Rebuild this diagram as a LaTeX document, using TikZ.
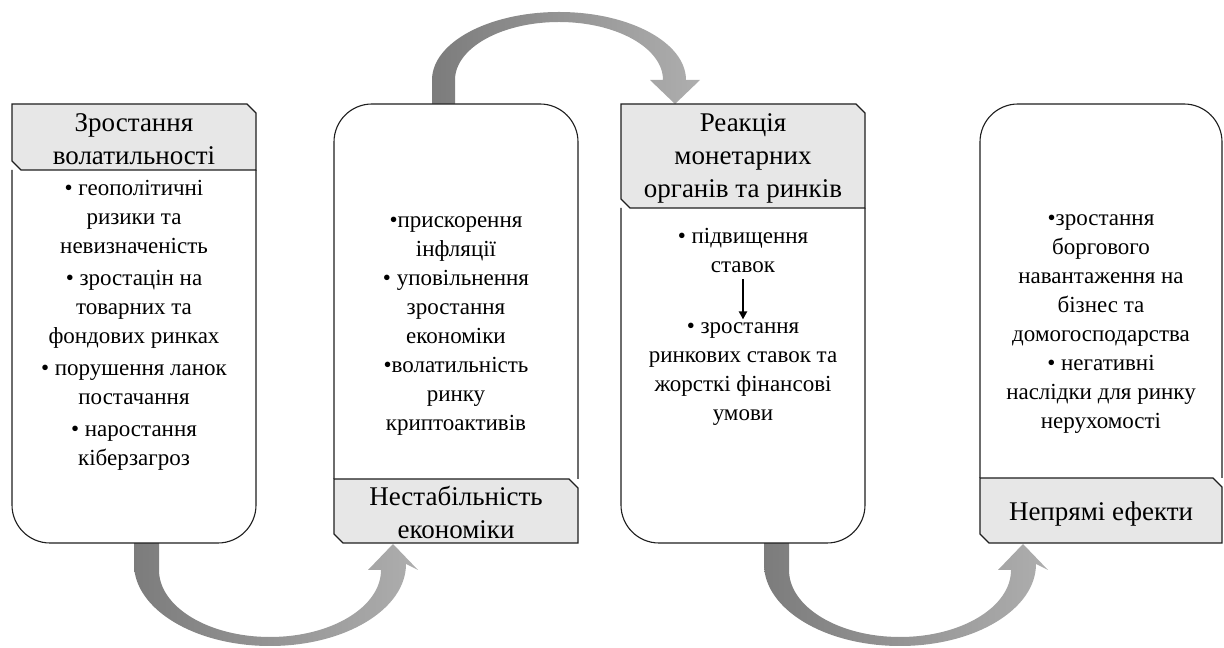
\documentclass[tikz,border=0pt]{standalone}
\usepackage{fontspec}
\setmainfont{Liberation Serif}
\newfontfamily\boxfont{Liberation Serif}
\usetikzlibrary{arrows.meta}
\definecolor{headgray}{RGB}{231,231,231}
\definecolor{arrowdark}{RGB}{124,124,124}
\definecolor{arrowlight}{RGB}{174,174,174}
\definecolor{framegray}{RGB}{30,30,30}

\begin{document}
\begin{tikzpicture}[x=1pt, y=1pt,
		box/.style={draw=framegray, line width=1.1pt, fill=white},
		head/.style={draw=framegray, line width=1.1pt, fill=headgray},
		bigarrow/.style={left color=arrowdark, right color=arrowlight},
		headtext/.style={align=center, inner sep=0pt, font=\boxfont\fontsize{27}{33}\selectfont},
		bodytext/.style={align=center, inner sep=0pt, font=\boxfont\fontsize{23}{29}\selectfont}]
		\useasboundingbox (0,0) rectangle (1224,648);

		% curved arrows
		\shade[bigarrow] (134,105) -- (134,84) arc[start angle=180, end angle=360, x radius=136, y radius=82] -- (418,78) -- (393,104) -- (368,78) -- (381,78) arc[start angle=0, end angle=-180, x radius=111, y radius=67] -- (159,105) -- cycle;
		\shade[bigarrow] (432,544) -- (432,568) arc[start angle=180, end angle=0, x radius=127, y radius=68] -- (700,568) -- (675,544) -- (650,568) -- (663,568) arc[start angle=0, end angle=180, x radius=104, y radius=58] -- (455,544) -- cycle;
		\shade[bigarrow] (764,105) -- (764,84) arc[start angle=180, end angle=360, x radius=136, y radius=82] -- (1048,78) -- (1023,104) -- (998,78) -- (1011,78) arc[start angle=0, end angle=-180, x radius=111, y radius=67] -- (789,105) -- cycle;

		% boxes
		\draw[box, rounded corners=38pt] (12,478) -- (12,105) -- (256,105) -- (256,478);
		\draw[head] (12,544) -- (247,544) -- (256,535) -- (256,478) -- (21,478) -- (12,487) -- cycle;

		\draw[box, rounded corners=38pt] (334,169) -- (334,544) -- (578,544) -- (578,169);
		\draw[head] (334,169) -- (569,169) -- (578,160) -- (578,105) -- (343,105) -- (334,114) -- cycle;

		\draw[box, rounded corners=38pt] (621,440) -- (621,105) -- (865,105) -- (865,440);
		\draw[head] (621,544) -- (856,544) -- (865,535) -- (865,440) -- (630,440) -- (621,449) -- cycle;

		\draw[box, rounded corners=38pt] (980,170) -- (980,544) -- (1222,544) -- (1222,170);
		\draw[head] (980,170) -- (1213,170) -- (1222,161) -- (1222,105) -- (989,105) -- (980,114) -- cycle;

		% texts
		\node[headtext] (h1) at (134,509) {Зростання\\волатильності};
		\node[bodytext] (t1) at (134,323) {• геополітичні\\ризики та\\невизначеність\\[3pt]• зростацін на\\товарних та\\фондових ринках\\[3pt]• порушення ланок\\постачання\\[3pt]• наростання\\кіберзагроз};

		\node[bodytext] (t2) at (456,322) {•прискорення\\інфляції\\• уповільнення\\зростання\\економіки\\•волатильність\\ринку\\криптоактивів};
		\node[headtext] (h2) at (456,136) {Нестабільність\\економіки};

		\node[headtext] (h3) at (743,490) {Реакція\\монетарних\\органів та ринків};
		\node[bodytext] (r1) at (743,397) {• підвищення\\ставок};
		\node[bodytext] (r2) at (743,274) {• зростання\\ринкових ставок та\\жорсткі фінансові\\умови};
		\draw[-{Triangle[width=8pt, length=8pt]}, line width=2.4pt, shorten <=6pt, shorten >=3pt] (r1) -- (r2);

		\node[bodytext] (t4) at (1101,324) {•зростання\\боргового\\навантаження на\\бізнес та\\домогосподарства\\• негативні\\наслідки для ринку\\нерухомості};
		\node[headtext] (h4) at (1101,134) {Непрямі ефекти};
	\end{tikzpicture}
\end{document}
